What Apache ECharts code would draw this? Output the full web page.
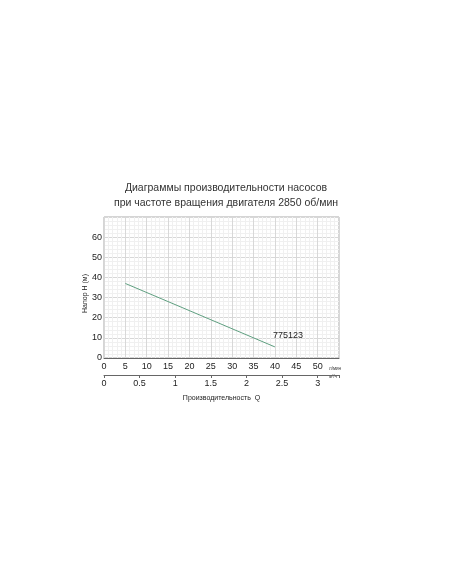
<!DOCTYPE html>
<html><head><meta charset="utf-8">
<script src="https://cdn.jsdelivr.net/npm/echarts@6/dist/echarts.min.js"></script>
<style>html,body{margin:0;padding:0;background:#fff}#c{width:452px;height:584px}</style>
</head><body><div id="c"></div>
<script>
const flowLmin = [5, 40];
const headM = [37, 5.5];
const seriesName = '775123';
const titleLines = ['Диаграммы производительности насосов', 'при частоте вращения двигателя 2850 об/мин'];

const chart = echarts.init(document.getElementById('c'));
const F = 'Liberation Sans, Arial, sans-serif';
const data = flowLmin.map((q, i) => [q, headM[i]]);
chart.setOption({
  animation: false,
  title: {text: titleLines.join('\n'), left: 'center', top: 176,
    textStyle: {fontFamily: F, fontSize: 10.5, fontWeight: 'normal', color: '#333', lineHeight: 15}},
  grid: {left: 104, right: 113, top: 217, bottom: 226, show: true, borderColor: '#aaa', borderWidth: 1},
  xAxis: [
    {type: 'value', min: 0, max: 55, interval: 5, position: 'bottom',
      axisLine: {lineStyle: {color: '#666'}}, axisTick: {show: false},
      axisLabel: {fontFamily: F, fontSize: 9, color: '#222', margin: 4, showMaxLabel: false,
        formatter: v => v > 50 ? '' : v},
      splitLine: {lineStyle: {color: '#d8d8d8', width: 1}},
      minorTick: {show: false, splitNumber: 5},
      minorSplitLine: {show: true, lineStyle: {color: '#f0f0f0', width: 1}}},
    {type: 'value', min: 0, max: 3.3, interval: 0.5, position: 'bottom', offset: 17,
      axisLine: {show: true, onZero: false, lineStyle: {color: '#666'}},
      axisTick: {show: true, length: 3, lineStyle: {color: '#666'}},
      axisLabel: {fontFamily: F, fontSize: 9, color: '#222', margin: 4,
        formatter: v => v > 3 ? '' : String(v)},
      splitLine: {show: false},
      name: 'Производительность  Q', nameLocation: 'middle', nameGap: 20,
      nameTextStyle: {fontFamily: F, fontSize: 7, color: '#222'}}
  ],
  yAxis: {type: 'value', min: 0, max: 70, interval: 10,
    axisLine: {show: false}, axisTick: {show: false},
    axisLabel: {fontFamily: F, fontSize: 9, color: '#222', margin: 2, formatter: v => v > 60 ? '' : v},
    splitLine: {lineStyle: {color: '#d8d8d8', width: 1}},
    minorSplitLine: {show: true, lineStyle: {color: '#f0f0f0', width: 1}},
    minorTick: {show: false, splitNumber: 5},
    name: 'Напор Н (м)', nameLocation: 'middle', nameGap: 15, nameRotate: 90, nameMoveOverlap: false,
    nameTextStyle: {fontFamily: F, fontSize: 7, color: '#222', padding: [0, 12, 0, 0]}},
  graphic: [
    {type: 'text', left: 329, top: 366, style: {text: 'л/мин', fontSize: 4.5, fill: '#333', fontFamily: F}},
    {type: 'text', left: 329, top: 374, style: {text: 'м³/ч', fontSize: 4.5, fill: '#333', fontFamily: F}}
  ],
  series: [{
    type: 'line', name: seriesName, data: data, xAxisIndex: 0, showSymbol: false, symbolSize: 0,
    lineStyle: {color: '#5f9f80', width: 1},
    label: {show: false},
    endLabel: {show: true, formatter: seriesName, color: '#222', fontFamily: F, fontSize: 9,
      offset: [-10, -11]}
  }]
});
</script></body></html>
